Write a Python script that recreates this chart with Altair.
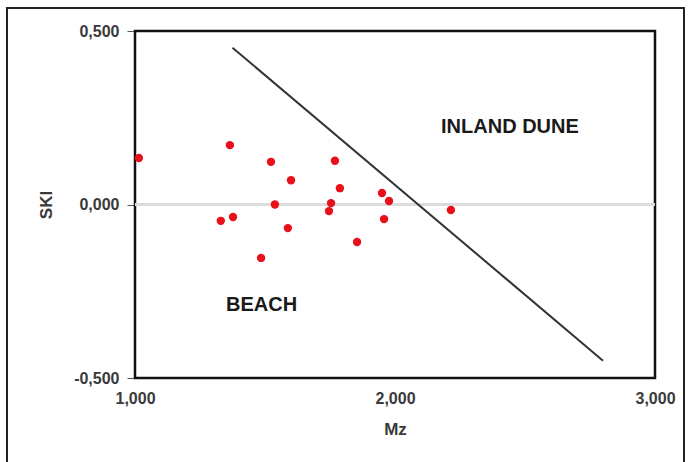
import altair as alt
import pandas as pd

# Scatter data (Mz, SKI)
mz = [1.015, 1.365, 1.523, 1.600, 1.538, 1.330, 1.377, 1.588, 1.485,
      1.769, 1.788, 1.754, 1.746, 1.950, 1.977, 1.958, 1.854, 2.215]
ski = [0.134, 0.171, 0.123, 0.070, 0.000, -0.047, -0.036, -0.068, -0.154,
       0.126, 0.047, 0.004, -0.019, 0.033, 0.010, -0.042, -0.108, -0.016]

# Discriminant line endpoints
line_mz = [1.375, 2.800]
line_ski = [0.452, -0.450]

# Region labels
label_text = ["INLAND DUNE", "BEACH"]
label_mz = [2.442, 1.487]
label_ski = [0.223, -0.290]

x_ticks = [1, 2, 3]
y_ticks = [-0.5, 0, 0.5]

pts = pd.DataFrame({"Mz": mz, "SKI": ski})
ln = pd.DataFrame({"Mz": line_mz, "SKI": line_ski})
lab = pd.DataFrame({"Mz": label_mz, "SKI": label_ski, "t": label_text})

FONT = "Liberation Sans"
comma = "replace(replace(format(datum.value, '.3f'), '.', ','), '\u2212', '-')"

xs = alt.Scale(domain=[1, 3], nice=False, zero=False)
ys = alt.Scale(domain=[-0.5, 0.5], nice=False, zero=False)

xenc = alt.X("Mz:Q", scale=xs, title="Mz",
             axis=alt.Axis(values=x_ticks, labelExpr=comma, grid=False, ticks=False,
                           domain=False, labelPadding=12, titlePadding=15, labelFlush=False,
                           labelFontSize=16, titleFontSize=17, labelFontWeight="bold",
                           titleFontWeight="bold", labelColor="#3a3a3a", titleColor="#3a3a3a",
                           labelFont=FONT, titleFont=FONT))
yenc = alt.Y("SKI:Q", scale=ys, title="SKI",
             axis=alt.Axis(values=y_ticks, labelExpr=comma, grid=False, ticks=True,
                           tickSize=8, tickColor="#555", domain=False, labelPadding=8,
                           titlePadding=18, labelFlush=False, labelFontSize=16, titleFontSize=17,
                           labelFontWeight="bold", titleFontWeight="bold",
                           labelColor="#3a3a3a", titleColor="#3a3a3a",
                           labelFont=FONT, titleFont=FONT))

one = pd.DataFrame({"a": [0]})

zero = alt.Chart(pts).mark_rule(color="#dcdcdc", strokeWidth=1.5).encode(y=alt.datum(0, scale=ys))

points = alt.Chart(pts).mark_circle(color="#e8101a", opacity=1, size=70).encode(
    x=xenc, y=yenc)

line = alt.Chart(ln).mark_line(color="#333333", strokeWidth=2).encode(x="Mz:Q", y="SKI:Q")

texts = alt.Chart(lab).mark_text(font=FONT, fontSize=20, fontWeight="bold",
                                 color="#1a1a1a").encode(x="Mz:Q", y="SKI:Q", text="t:N")

plot_frame = alt.Chart(one).mark_rect(fill=None, stroke="#111111", strokeWidth=2.5).encode(
    x=alt.value(0), x2=alt.value(520), y=alt.value(0), y2=alt.value(347))

outer = alt.Chart(one).mark_rect(
    fill=None, stroke="#222", strokeWidth=2).encode(
    x=alt.value(-128), x2=alt.value(549), y=alt.value(-23), y2=alt.value(460))

chart = alt.layer(outer, plot_frame, zero, line, points, texts).properties(
    width=520, height=347,
    autosize=alt.AutoSizeParams(type="none"),
    padding={"left": 135, "top": 31, "right": 36, "bottom": 84},
).configure(
    background="white",
).configure_view(strokeWidth=0)

chart.save("out.html", embed_options={"renderer": "svg", "actions": False})
